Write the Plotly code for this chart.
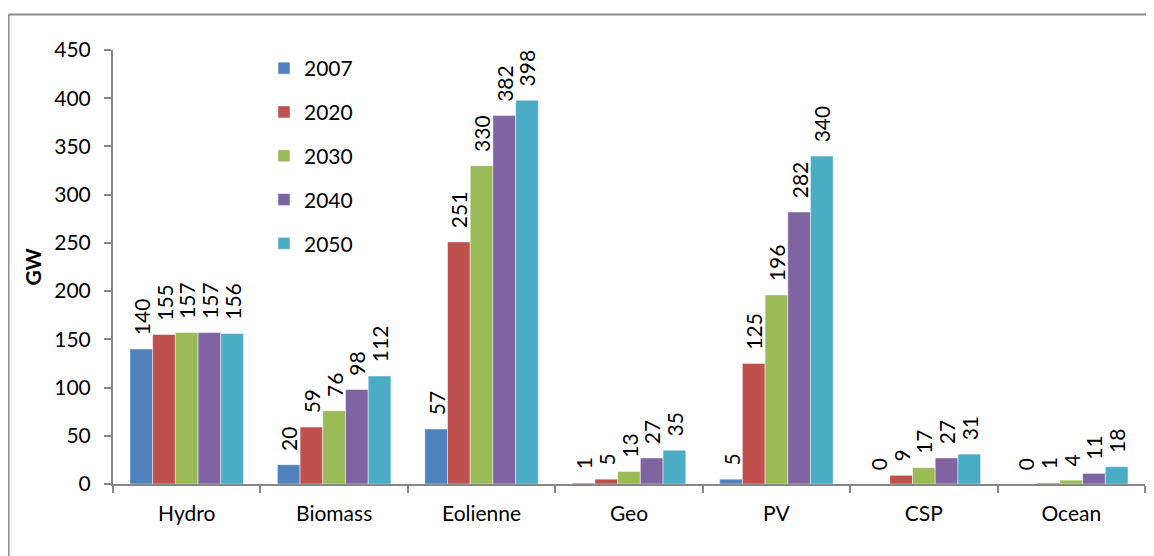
import plotly.graph_objects as go

categories = ["Hydro", "Biomass", "Eolienne", "Geo", "PV", "CSP", "Ocean"]
series_names = ["2007", "2020", "2030", "2040", "2050"]
v2007 = [140, 20, 57, 1, 5, 0, 0]
v2020 = [155, 59, 251, 5, 125, 9, 1]
v2030 = [157, 76, 330, 13, 196, 17, 4]
v2040 = [157, 98, 382, 27, 282, 27, 11]
v2050 = [156, 112, 398, 35, 340, 31, 18]
y_ticks = [0, 50, 100, 150, 200, 250, 300, 350, 400, 450]

series_values = [v2007, v2020, v2030, v2040, v2050]
colors = ["#4F81BD", "#C0504D", "#9BBB59", "#8064A2", "#4BACC6"]

FONT = "Lato"
FS = 21

# page is offset by the 8px body margin; size the figure to fit the window
OFF = 8
W, H = 1154 - OFF, 556 - OFF
ml, mt = 113 - OFF, 50 - OFF
mr = W - (1145 - OFF)
mb = H - (484 - OFF)
pw = W - ml - mr
ph = H - mt - mb

fig = go.Figure()
for name, vals, col in zip(series_names, series_values, colors):
    fig.add_trace(go.Bar(
        x=categories, y=vals, name=name, legendgroup=name,
        marker=dict(color=col, line=dict(color="rgba(255,255,255,0.6)", width=0.8)),
        text=vals, texttemplate="\u00a0\u00a0%{text}",
        textposition="outside", textangle=-90,
        textfont=dict(family=FONT, size=FS, color="#000000"),
        constraintext="none", cliponaxis=False,
    ))

bx0 = (8.5 - OFF - ml) / pw
bx1 = (W + 40 - ml) / pw
by0 = -(mb + 40) / ph
by1 = 1 + (mt - (14.5 - OFF)) / ph
border = dict(color="#8C8C8C", width=2)

fig.update_layout(
    width=W, height=H,
    margin=dict(l=ml, r=mr, t=mt, b=mb, pad=0),
    paper_bgcolor="white", plot_bgcolor="white",
    barmode="group", bargap=0.23, bargroupgap=0,
    font=dict(family=FONT, size=FS, color="#000000"),
    showlegend=True,
    legend=dict(
        x=(264 - OFF - ml) / pw, y=1 + (mt - (48 - OFF)) / ph, xanchor="left", yanchor="top",
        traceorder="grouped", tracegroupgap=13.5,
        font=dict(family=FONT, size=FS, color="#000000"),
        bgcolor="rgba(0,0,0,0)",
    ),
    xaxis=dict(
        showline=True, linecolor="#868686", linewidth=2,
        ticks="outside", ticklen=7, tickwidth=1.5, tickcolor="#868686",
        tickson="boundaries", ticklabelstandoff=10,
        showgrid=False, zeroline=False,
        tickfont=dict(family=FONT, size=FS, color="#000000"),
    ),
    yaxis=dict(
        range=[0, 450], tickvals=y_ticks, ticktext=[str(t) for t in y_ticks],
        showline=True, linecolor="#868686", linewidth=2,
        ticks="outside", ticklen=7, tickwidth=1.5, tickcolor="#868686",
        ticklabelstandoff=9,
        showgrid=False, zeroline=False,
        tickfont=dict(family=FONT, size=FS, color="#000000"),
        title=dict(text="<b>GW</b>", font=dict(family=FONT, size=FS, color="#000000"), standoff=7),
    ),
    shapes=[
        dict(type="line", xref="paper", yref="paper", x0=bx0, x1=bx1, y0=by1, y1=by1,
             line=border, layer="below"),
        dict(type="line", xref="paper", yref="paper", x0=bx0, x1=bx0, y0=by0, y1=by1,
             line=border, layer="below"),
    ],
)

fig.write_html("out.html")
